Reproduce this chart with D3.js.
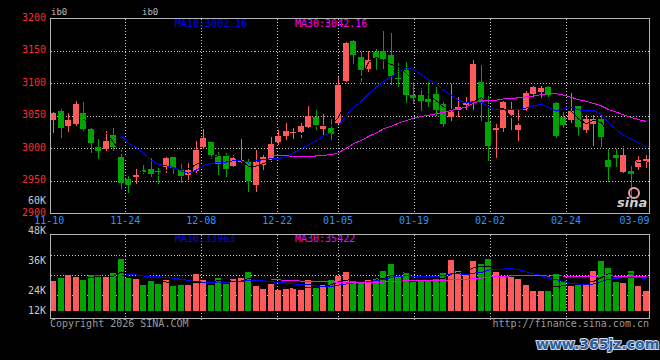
<!DOCTYPE html>
<html>
<head>
<meta charset="utf-8">
<script src="https://cdn.jsdelivr.net/npm/d3@7"></script>
<style>
  body { margin: 0; background: #000; }
  svg { display: block; }
  text { font-family: "DejaVu Sans Mono", "Liberation Mono", monospace; }
</style>
</head>
<body>
<div id="vis1" style="width:660px;height:360px"></div>
<script>
/*
Data
*/

const dates = [
  "11-10","11-11","11-12","11-13","11-14","11-17","11-18","11-19","11-20","11-21",
  "11-24","11-25","11-26","11-27","11-28","12-01","12-02","12-03","12-04","12-05",
  "12-08","12-09","12-10","12-11","12-12","12-15","12-16","12-17","12-18","12-19",
  "12-22","12-23","12-24","12-25","12-26","12-29","12-30","12-31","01-05","01-06",
  "01-07","01-08","01-09","01-12","01-13","01-14","01-15","01-16","01-19","01-20",
  "01-21","01-22","01-23","01-26","01-27","01-28","01-29","01-30","02-02","02-03",
  "02-04","02-05","02-06","02-09","02-10","02-11","02-12","02-13","02-24","02-25",
  "02-26","02-27","03-02","03-03","03-04","03-05","03-06","03-09","03-10","03-11"
];

const opens = [
  3043.1,3058.4,3034.4,3037.5,3055.3,3029.3,3001.7,2999.2,3020.1,2987.0,
  2953.8,2955.8,2966.6,2968.1,2965.5,2971.6,2986.5,2969.1,2959.9,2966.1,
  3002.3,3009.4,2990.6,2988.5,2973.2,2979.3,2980.9,2943.6,2974.2,2982.9,
  3009.4,3019.1,3023.2,3025.2,3032.9,3048.7,3029.3,3032.3,3039.5,3104.3,
  3165.6,3140.0,3123.0,3148.7,3150.3,3143.6,3108.9,3121.0,3081.9,3082.9,
  3076.8,3084.4,3068.6,3048.2,3059.4,3067.1,3071.2,3102.8,3040.6,3027.8,
  3031.4,3050.8,3027.8,3059.4,3084.0,3086.5,3095.2,3070.1,3049.2,3043.1,
  3065.1,3027.8,3037.0,3045.1,2981.9,2990.6,2964.0,2966.1,2971.7,2979.3
];
const highs = [
  3055.8,3061.4,3054.8,3073.1,3072.1,3032.3,3015.0,3026.2,3031.8,2997.2,
  2958.4,2968.1,2974.2,2986.0,2970.1,2986.5,2987.0,2976.8,2977.3,3011.0,
  3030.3,3010.5,2994.6,2992.6,2990.6,3014.0,2984.4,2997.2,2990.6,3017.1,
  3028.8,3038.5,3032.3,3039.5,3066.0,3059.4,3053.3,3045.6,3109.4,3164.0,
  3166.5,3147.7,3150.0,3152.8,3180.9,3178.3,3132.3,3133.4,3103.3,3092.6,
  3102.8,3094.1,3072.2,3099.2,3079.8,3079.8,3136.5,3128.3,3081.4,3037.0,
  3073.7,3072.2,3059.9,3089.0,3096.7,3096.7,3096.7,3072.2,3055.9,3085.5,
  3066.0,3050.8,3051.8,3053.3,2999.7,2998.7,3003.3,2972.7,2988.5,2989.5
];
const lows = [
  3025.2,3017.6,3026.7,3035.4,3027.8,2994.6,2985.4,2997.2,2997.2,2939.5,
  2933.4,2947.2,2962.5,2956.4,2947.2,2964.0,2963.0,2948.7,2953.8,2964.0,
  3000.7,2985.4,2960.4,2957.4,2973.0,2979.3,2934.9,2934.9,2969.1,2980.9,
  3006.9,3014.0,3014.0,3017.6,3031.3,3030.3,3022.7,3014.0,3039.0,3103.5,
  3132.3,3104.3,3119.6,3122.2,3123.2,3099.2,3096.7,3072.2,3070.1,3059.4,
  3065.1,3051.8,3033.9,3043.1,3049.7,3057.4,3061.0,3043.1,2981.9,2987.0,
  3026.3,3030.4,3012.5,3058.4,3081.4,3078.8,3081.4,3018.0,3032.9,3040.6,
  3021.2,3025.3,3005.9,3003.8,2949.7,2973.2,2964.0,2907.9,2968.1,2971.7
];
const closes = [
  3054.3,3031.3,3043.1,3069.1,3029.8,3008.4,2996.1,3010.9,3002.3,2946.2,
  2943.6,2958.9,2963.5,2960.4,2964.5,2986.0,2969.6,2957.9,2967.1,2997.2,
  3015.5,2989.5,2976.8,2968.1,2985.4,2982.9,2949.7,2979.3,2987.0,3006.9,
  3018.6,3026.2,3025.8,3033.9,3050.7,3036.4,3033.9,3022.2,3098.2,3163.0,
  3143.6,3121.2,3136.0,3138.5,3137.5,3112.0,3106.9,3082.9,3077.3,3073.7,
  3072.2,3060.0,3037.0,3055.9,3064.5,3069.6,3129.9,3072.2,3003.3,3031.9,
  3072.2,3061.0,3035.5,3084.9,3094.2,3092.6,3082.4,3019.1,3035.5,3057.4,
  3032.9,3045.6,3045.6,3017.6,2971.7,2985.5,2989.5,2961.5,2981.9,2983.4
];
const volumes = [
  31300,34500,37700,35600,32400,37700,37700,35600,39800,54500,
  34500,33400,27100,31300,28200,32400,26000,27100,27800,38700,
  32400,27100,34500,28500,33400,34500,40800,26000,22900,28200,
  21800,23600,24500,21800,32400,24300,27100,32400,36600,40800,
  31300,29200,32400,34500,41900,49300,35600,40800,30300,33100,
  32400,34800,40100,53500,41900,38700,52400,49300,54500,41100,
  35900,35900,34200,27100,21100,21100,21100,38700,31300,26100,
  27100,28900,41900,52400,45400,30300,29200,41900,26100,21100
];

const priceTicks = [2900, 2950, 3000, 3050, 3100, 3150, 3200];
const volTicks = [12000, 24000, 36000, 48000, 60000];
const dateTicks = ["11-10","11-24","12-08","12-22","01-05","01-19","02-02","02-24","03-09"];
const priceMaText = ["MA10:3002.16", "MA30:3042.16"];
const volMaText = ["MA10:33963", "MA30:35422"];

/*
Size constants
*/

const WIDTH = 660, HEIGHT = 360;
const N = closes.length;
const left = 50.5, right = 649.5;
const priceTop = 18.5, priceBottom = 213.5;
const volTop = 234.5, volBottom = 318.5, volBase = 311;

const RED = "#ff5a5a", GREEN = "#00a400", GRID = "#c8c8c8", FRAME = "#b4b4b4";

/*
Functions
*/

// simple moving average, null until the window is full
function movingAvg(arr, n) {
    return arr.map((d, i) => i < n - 1 ? null : d3.mean(arr.slice(i - n + 1, i + 1)));
}

const crisp = v => Math.floor(v) + 0.5;

/*
Scales
*/

const x = d3.scaleBand().domain(d3.range(N)).range([49.5, 649.5])
            .paddingInner(0.2).paddingOuter(0.1);
const cx = i => Math.round(x(i)) + 3.5;
// grid / date labels use their own spacing (first slot at left edge, last at right edge)
const xGrid = d3.scaleLinear().domain([0, N - 1]).range([49.3, 649.7]);

const y = d3.scaleLinear().domain([2900, 3200]).range([priceBottom, priceTop]);
const yVol = d3.scaleLinear().domain([0, 80000]).range([volBase, volBase - 76]);
// the volume axis labels sit on a scale of their own in the picture
const yVolLabel = d3.scaleLinear().domain([24000, 60000]).range([290, 200]);
const yVolGrid = d3.scaleLinear().domain([0, 4]).range([235, 315]);

const svg = d3.select("#vis1").append("svg")
              .attr("width", WIDTH).attr("height", HEIGHT)
              .style("background", "#000");

/*
Grid
*/

const grid = svg.append("g").attr("stroke", GRID).attr("stroke-dasharray", "1,2")
                .attr("shape-rendering", "crispEdges");

grid.selectAll("line.h").data(priceTicks.slice(1, -1)).enter().append("line")
    .attr("x1", left).attr("x2", right)
    .attr("y1", d => crisp(y(d))).attr("y2", d => crisp(y(d)));

grid.selectAll("line.vh").data([1, 2, 3]).enter().append("line")
    .attr("x1", left).attr("x2", right)
    .attr("y1", d => crisp(yVolGrid(d))).attr("y2", d => crisp(yVolGrid(d)));

const tickIdx = dateTicks.map(t => dates.indexOf(t));
const gridIdx = tickIdx.slice(1, -1);

grid.selectAll("line.v").data(gridIdx).enter().append("line")
    .attr("x1", d => crisp(xGrid(d))).attr("x2", d => crisp(xGrid(d)))
    .attr("y1", priceTop).attr("y2", priceBottom);

grid.selectAll("line.vv").data(gridIdx).enter().append("line")
    .attr("x1", d => crisp(xGrid(d))).attr("x2", d => crisp(xGrid(d)))
    .attr("y1", volTop).attr("y2", 322);

/*
Candles
*/

const candles = svg.append("g").attr("shape-rendering", "crispEdges");
const idx = d3.range(N);
const col = i => closes[i] >= opens[i] ? RED : GREEN;

candles.selectAll("line").data(idx).enter().append("line")
    .attr("x1", cx).attr("x2", cx)
    .attr("y1", i => Math.round(y(highs[i])))
    .attr("y2", i => Math.round(y(lows[i])) + 1)
    .attr("stroke", col);

candles.selectAll("rect").data(idx).enter().append("rect")
    .attr("x", i => Math.round(x(i)))
    .attr("width", 6)
    .attr("y", i => Math.round(y(Math.max(opens[i], closes[i]))))
    .attr("height", i => Math.max(1, Math.round(y(Math.min(opens[i], closes[i]))) - Math.round(y(Math.max(opens[i], closes[i])))))
    .attr("fill", col);

/*
Volume bars
*/

svg.append("g").attr("shape-rendering", "crispEdges")
   .selectAll("rect").data(idx).enter().append("rect")
   .attr("x", i => Math.round(x(i)))
   .attr("width", 6)
   .attr("y", i => Math.round(yVol(volumes[i])))
   .attr("height", i => volBase - Math.round(yVol(volumes[i])))
   .attr("fill", col);

/*
Moving averages
*/

function drawMA(values, scale, color) {
    const line = d3.line().defined(d => d != null)
                   .x((d, i) => cx(i)).y(d => scale(d));
    svg.append("path").datum(values)
       .attr("d", line).attr("fill", "none")
       .attr("stroke", color).attr("stroke-width", 1)
       .attr("shape-rendering", "crispEdges");
}

drawMA(movingAvg(closes, 5), y, "#000");
drawMA(movingAvg(closes, 10), y, "#0000ff");
drawMA(movingAvg(closes, 30), y, "#ff00ff");
drawMA(movingAvg(volumes, 5), yVol, "#000");
drawMA(movingAvg(volumes, 10), yVol, "#0000ff");
drawMA(movingAvg(volumes, 30), yVol, "#ff00ff");

/*
Texts
*/

svg.selectAll("text.ma").data(priceMaText).enter().append("text")
   .attr("x", (d, i) => 175 + i * 120).attr("y", 27)
   .attr("fill", (d, i) => i ? "#ff00ff" : "#0000ff")
   .attr("font-size", 10).text(d => d);

svg.selectAll("text.vma").data(volMaText).enter().append("text")
   .attr("x", (d, i) => 175 + i * 120).attr("y", 242)
   .attr("fill", (d, i) => i ? "#ff00ff" : "#0000ff")
   .attr("font-size", 10).text(d => d);

// frames
const frames = svg.append("g").attr("fill", "none").attr("stroke", FRAME)
                  .attr("shape-rendering", "crispEdges");
frames.append("rect").attr("x", left).attr("y", priceTop)
      .attr("width", right - left).attr("height", priceBottom - priceTop);
frames.append("rect").attr("x", left).attr("y", volTop)
      .attr("width", right - left).attr("height", volBottom - volTop);

svg.selectAll("text.py").data(priceTicks).enter().append("text")
   .attr("x", 46).attr("y", d => y(d) + 2)
   .attr("text-anchor", "end").attr("fill", "#ff2a2a")
   .attr("font-size", 10).text(d => d);

svg.selectAll("text.vy").data(volTicks).enter().append("text")
   .attr("x", 46).attr("y", d => Math.min(yVolLabel(d), 310.7) + 3.5)
   .attr("text-anchor", "end").attr("fill", "#c8c8c8")
   .attr("font-size", 10).text(d => d / 1000 + "K");

svg.selectAll("text.dx").data(dateTicks).enter().append("text")
   .attr("x", (d, i) => xGrid(tickIdx[i])).attr("y", 224)
   .attr("text-anchor", "middle").attr("fill", "#2894ff")
   .attr("font-size", 10).text(d => d);

svg.selectAll("text.tl").data([51, 142]).enter().append("text")
   .attr("x", d => d).attr("y", 15)
   .attr("fill", "#bdbdbd").attr("font-size", 9).text("ib0");

svg.append("text").attr("x", 50).attr("y", 327)
   .attr("fill", "#9a9a9a").attr("font-size", 10)
   .text("Copyright 2026 SINA.COM");

svg.append("text").attr("x", 649).attr("y", 327).attr("text-anchor", "end")
   .attr("fill", "#9a9a9a").attr("font-size", 10)
   .text("http://finance.sina.com.cn");

// sina logo watermark
svg.append("circle").attr("cx", 634).attr("cy", 193).attr("r", 5)
   .attr("fill", "none").attr("stroke", "#f0a0a0").attr("stroke-width", 2);
svg.append("text").attr("x", 617).attr("y", 207)
   .attr("fill", "#cfcfcf").attr("font-size", 13).attr("font-weight", "bold")
   .attr("font-style", "italic").style("font-family", "'DejaVu Sans', sans-serif")
   .text("sina");

// site watermark
svg.append("text").attr("x", 536).attr("y", 349)
   .attr("fill", "#2f5f9c").attr("stroke", "#d0dcea").attr("stroke-width", 2)
   .attr("paint-order", "stroke").attr("font-size", 14).attr("font-weight", "bold")
   .style("font-family", "'DejaVu Sans', sans-serif")
   .text("www.365jz.com");
</script>
</body>
</html>
